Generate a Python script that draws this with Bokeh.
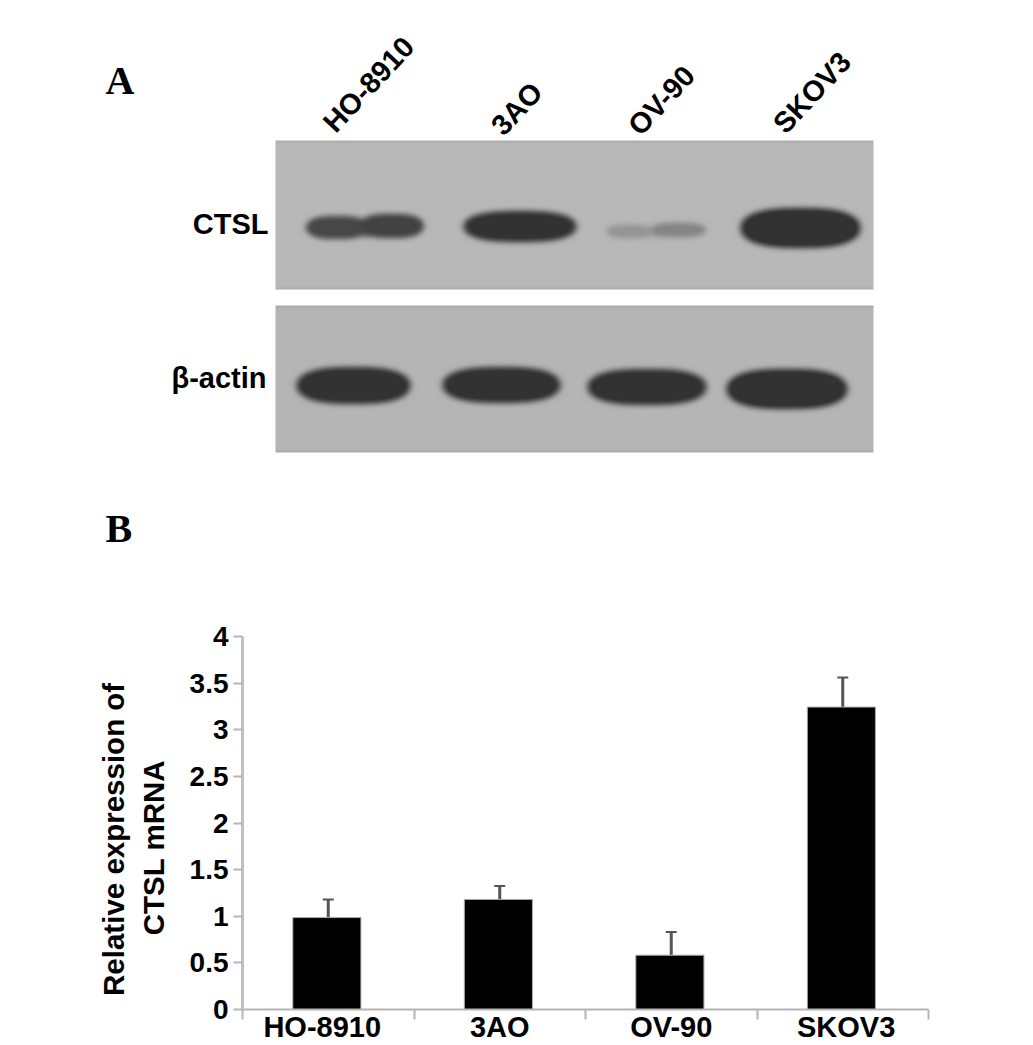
import numpy as np
from bokeh.core.properties import value
from bokeh.embed import file_html
from bokeh.layouts import column, row
from bokeh.models import ColumnDataSource, FixedTicker, LinearAxis, Range1d, TeeHead, Whisker
from bokeh.plotting import figure
from bokeh.resources import INLINE

# ---------- panel B data ----------
cell_lines = ["HO-8910", "3AO", "OV-90", "SKOV3"]
expression = [0.986, 1.18, 0.582, 3.243]
error_top = [1.18, 1.325, 0.832, 3.56]
y_ticks = [0, 0.5, 1, 1.5, 2, 2.5, 3, 3.5, 4]
y_tick_labels = ["0", "0.5", "1", "1.5", "2", "2.5", "3", "3.5", "4"]

# ---------- panel A: blot bands (left, right, top, bottom, density) ----------
ctsl_bands = [
    (304, 424, 217, 237, 0.66), (305, 368, 215, 239, 0.84), (358, 424, 213, 238, 0.88),
    (462, 577, 210, 242, 1.02),
    (604, 706, 225, 237, 0.2), (606, 652, 224, 238, 0.26), (650, 706, 222, 237, 0.38),
    (739, 861, 207, 248, 1.08),
]
actin_bands = [
    (295, 411, 366, 404, 1.03),
    (441, 561, 366, 403, 1.03),
    (586, 707, 368, 405, 1.03),
    (725, 848, 368, 409, 1.08),
]
ctsl_panel = (275, 873, 140, 289)
actin_panel = (275, 873, 305, 452)
panel_grey = [(184, 184, 184), (181, 181, 181)]
lane_labels = ["HO-8910", "3AO", "OV-90", "SKOV3"]
lane_label_x = [328, 496, 633, 778]
lane_label_y = [127, 130, 130, 128]
side_labels = ["CTSL", "\u03b2-actin"]
side_label_x = [268, 266]
side_label_y = [223, 377]
letters = ["A", "B"]
letter_x = [105, 105]
letter_y = [80, 528]


def soften(a, r):
    kernel = np.ones(2 * r + 1) / (2 * r + 1)
    for axis in (0, 1):
        a = np.apply_along_axis(lambda m: np.convolve(m, kernel, mode="same"), axis, a)
    return a


def blot(panel, bands, grey):
    l, r, t, b = panel
    xs, ys = np.meshgrid(np.arange(l, r) + 0.5, np.arange(t, b) + 0.5)
    density = np.zeros_like(xs, dtype=float)
    for x0, x1, y0, y1, d in bands:
        cx, cy, hw, hh = (x0 + x1) / 2, (y0 + y1) / 2, (x1 - x0) / 2, (y1 - y0) / 2
        q = (np.abs(xs - cx) / hw) ** 2.8 + (np.abs(ys - cy) / hh) ** 2.2
        density = np.maximum(density, d * np.clip((1.1 - q) / 0.3, 0, 1))
    density = soften(soften(density, 3), 2)
    density = np.clip(density, 0, 1)
    edge = np.minimum(ys - t, b - ys)
    shade = np.clip(edge / 3, 0, 1) * 14 - 14
    img = np.zeros(xs.shape + (4,), dtype=np.uint8)
    for c in range(3):
        base = grey[c] + shade
        img[..., c] = np.clip(base + (50 - base) * density, 0, 255)
    img[..., 3] = 255
    return img.view(dtype=np.uint32).reshape(xs.shape)


# ---------- top figure: page coordinates of panel A ----------
TOP_H = 600
top = figure(width=1033, height=TOP_H, x_range=Range1d(0, 1033), y_range=Range1d(TOP_H, 0),
             x_axis_type=None, y_axis_type=None, toolbar_location=None, output_backend="svg",
             min_border=0, outline_line_color=None)
top.grid.visible = False
for panel, bands, grey in ((ctsl_panel, ctsl_bands, panel_grey[0]), (actin_panel, actin_bands, panel_grey[1])):
    l, r, t, b = panel
    top.image_rgba(image=[blot(panel, bands, grey)], x=l, y=t, dw=r - l, dh=b - t)

top.text(x=lane_label_x, y=lane_label_y, text=lane_labels, angle=np.radians(47),
         text_font=value("Liberation Sans"), text_font_style="bold", text_font_size="29px",
         text_color="#000000", text_align="left", text_baseline="middle")
top.text(x=side_label_x, y=side_label_y, text=side_labels,
         text_font=value("Liberation Sans"), text_font_style="bold", text_font_size="29px",
         text_color="#000000", text_align="right", text_baseline="middle")
top.text(x=letter_x, y=letter_y, text=letters,
         text_font=value("Liberation Serif"), text_font_style="bold", text_font_size="40px",
         text_color="#000000", text_align="left", text_baseline="alphabetic")

# ---------- bottom figure: bar chart ----------
BOT_H = 1045 - TOP_H
centres = [i + 0.5 for i in range(len(cell_lines))]
bar_centres = [c - 0.008 for c in centres]
label_ticks = [0.465, 1.5, 2.5, 3.52]
src = ColumnDataSource(dict(x=centres, bx=bar_centres, top=expression, upper=error_top, lower=expression))

p = figure(width=1033, height=BOT_H, x_range=Range1d(0, 4), y_range=Range1d(0, 4),
           toolbar_location=None, output_backend="svg", outline_line_color=None,
           min_border_left=242, min_border_right=105, min_border_top=36, min_border_bottom=36)
p.grid.visible = False
p.vbar(x="bx", top="top", bottom=0, width=0.397, source=src, fill_color="#000000",
       line_color="#a8a8a8", line_width=1)
p.add_layout(Whisker(base="x", upper="upper", lower="lower", source=src, dimension="height",
                     line_color="#555555", line_width=3, lower_head=None,
                     upper_head=TeeHead(size=11, line_color="#555555", line_width=2)))

ax = p.xaxis[0]
ax.ticker = FixedTicker(ticks=label_ticks, minor_ticks=[0, 1, 2, 3, 4])
ax.major_label_overrides = {c: n for c, n in zip(label_ticks, cell_lines)}
ax.major_tick_line_color = None
ax.major_tick_in = 0
ax.major_tick_out = 0
ax.minor_tick_in = 0
ax.minor_tick_out = 10
ax.minor_tick_line_color = "#b4b4b4"
ax.minor_tick_line_width = 2
ax.axis_line_color = "#b4b4b4"
ax.axis_line_width = 2
ax.major_label_standoff = -9
ax.major_label_text_font = "Liberation Sans"
ax.major_label_text_font_style = "bold"
ax.major_label_text_font_size = "29px"
ax.major_label_text_color = "#000000"

ay = p.yaxis[0]
ay.ticker = FixedTicker(ticks=y_ticks)
ay.major_label_overrides = {t: s for t, s in zip(y_ticks, y_tick_labels)}
ay.major_tick_in = 0
ay.major_tick_out = 9
ay.major_tick_line_color = "#b4b4b4"
ay.major_tick_line_width = 2
ay.minor_tick_line_color = None
ay.axis_line_color = "#c0c0c0"
ay.axis_line_width = 3
ay.major_label_standoff = 5
ay.major_label_text_font = "Liberation Sans"
ay.major_label_text_font_style = "bold"
ay.major_label_text_font_size = "28px"
ay.major_label_text_color = "#000000"

# a bare second axis carries the two-line title; trailing no-break spaces centre it below the frame's middle
title_axis = LinearAxis(ticker=FixedTicker(ticks=[]), axis_line_color=None,
                        major_tick_line_color=None, minor_tick_line_color=None,
                        major_label_text_font_size="0px",
                        axis_label="Relative expression of" + "\u00a0" * 4 + "\nCTSL mRNA" + "\u00a0" * 6,
                        axis_label_text_font="Liberation Sans", axis_label_text_font_style="bold",
                        axis_label_text_font_size="29.5px", axis_label_text_color="#000000",
                        axis_label_standoff=17)
p.add_layout(title_axis, "left")

layout = column(row(top), row(p), spacing=0)
open("out.html", "w").write(file_html(layout, INLINE))
